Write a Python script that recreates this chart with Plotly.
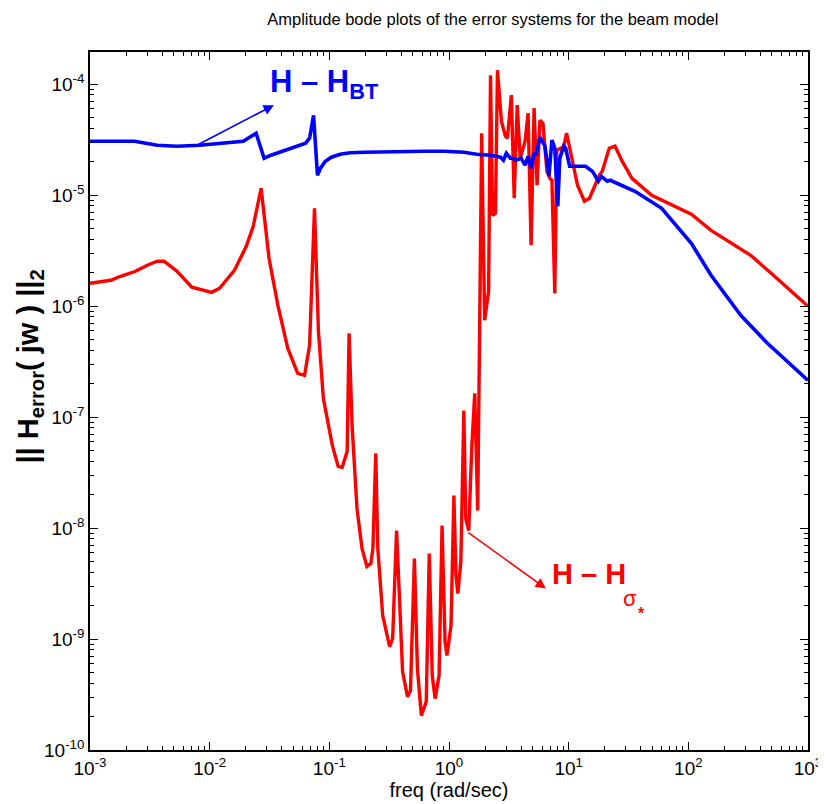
import plotly.graph_objects as go
import numpy as np

# ---- data (log10 of frequency in rad/s, log10 of error norm) ----
blue_log10_freq = [-3.000, -2.628, -2.438, -2.273, -2.083, -1.719, -1.612, -1.587, -1.545, -1.488,
                   -1.364, -1.198, -1.165, -1.132, -1.099, -1.074, -1.033, -0.983, -0.909, -0.826,
                   -0.702, -0.537, -0.372, -0.207, -0.041, 0.124, 0.231, 0.347, 0.430, 0.455,
                   0.479, 0.512, 0.537, 0.562, 0.603, 0.636, 0.661, 0.686, 0.711, 0.727,
                   0.760, 0.802, 0.835, 0.860, 0.884, 0.909, 0.926, 0.959, 0.975, 1.008,
                   1.140, 1.198, 1.248, 1.273, 1.322, 1.347, 1.554, 1.777, 2.025, 2.190,
                   2.438, 2.661, 3.000]
blue_log10_mag = [-4.514, -4.514, -4.550, -4.559, -4.550, -4.514, -4.442, -4.532, -4.667, -4.640,
                  -4.595, -4.532, -4.487, -4.280, -4.821, -4.757, -4.694, -4.658, -4.631, -4.618,
                  -4.613, -4.609, -4.604, -4.604, -4.604, -4.613, -4.631, -4.640, -4.658, -4.685,
                  -4.622, -4.667, -4.667, -4.685, -4.667, -4.730, -4.649, -4.757, -4.622, -4.640,
                  -4.478, -4.559, -4.830, -4.505, -4.577, -5.100, -4.667, -4.559, -4.577, -4.739,
                  -4.739, -4.784, -4.875, -4.830, -4.875, -4.866, -4.965, -5.118, -5.434, -5.722,
                  -6.083, -6.335, -6.669]

red_log10_freq = [-3.000, -2.826, -2.744, -2.620, -2.521, -2.438, -2.380, -2.273, -2.149, -1.983,
                  -1.917, -1.793, -1.694, -1.636, -1.570, -1.504, -1.430, -1.347, -1.264, -1.207,
                  -1.165, -1.124, -1.091, -1.050, -0.975, -0.926, -0.893, -0.851, -0.835, -0.810,
                  -0.769, -0.727, -0.686, -0.653, -0.636, -0.612, -0.595, -0.554, -0.496, -0.471,
                  -0.438, -0.413, -0.388, -0.347, -0.322, -0.289, -0.264, -0.231, -0.190, -0.165,
                  -0.140, -0.116, -0.083, -0.058, -0.033, -0.017, 0.017, 0.041, 0.058, 0.074,
                  0.099, 0.124, 0.140, 0.165, 0.190, 0.215, 0.240, 0.273, 0.298, 0.331,
                  0.347, 0.364, 0.388, 0.405, 0.438, 0.471, 0.488, 0.521, 0.545, 0.570,
                  0.595, 0.636, 0.661, 0.686, 0.711, 0.736, 0.760, 0.785, 0.818, 0.843,
                  0.860, 0.884, 0.901, 0.934, 0.950, 0.983, 1.017, 1.074, 1.132, 1.174,
                  1.256, 1.281, 1.339, 1.388, 1.450, 1.529, 1.694, 2.025, 2.190, 2.521,
                  2.711, 3.000]
red_log10_mag = [-5.794, -5.767, -5.731, -5.686, -5.632, -5.596, -5.596, -5.686, -5.830, -5.876,
                 -5.839, -5.677, -5.461, -5.280, -4.938, -5.569, -5.993, -6.381, -6.606, -6.624,
                 -6.353, -5.118, -6.227, -6.831, -7.255, -7.444, -7.454, -7.309, -6.245, -7.075,
                 -7.823, -8.184, -8.346, -8.319, -8.184, -7.327, -8.184, -8.788, -9.068, -8.995,
                 -8.022, -8.608, -9.293, -9.519, -9.465, -8.274, -9.266, -9.690, -9.564, -8.229,
                 -9.329, -9.537, -9.329, -7.977, -9.023, -9.149, -8.878, -7.706, -8.427, -8.590,
                 -8.301, -6.940, -7.913, -8.022, -7.282, -6.786, -7.841, -4.442, -6.128, -5.867,
                 -3.919, -5.181, -5.163, -3.874, -4.334, -4.469, -4.487, -4.099, -5.028, -4.189,
                 -4.667, -4.514, -4.261, -5.452, -4.216, -4.911, -4.325, -4.352, -4.784, -4.848,
                 -4.866, -5.885, -4.595, -4.577, -4.604, -4.442, -4.622, -4.911, -5.055, -5.028,
                 -4.821, -4.784, -4.577, -4.559, -4.700, -4.848, -5.001, -5.172, -5.317, -5.542,
                 -5.722, -6.002]

title_text = "Amplitude bode plots of the error systems for the beam model"
x_title = "freq (rad/sec)"
y_title = "<b>|| H<sub>error</sub>( jw ) ||<sub>2</sub></b>"
x_decades = [-3, -2, -1, 0, 1, 2, 3]
y_decades = [-10, -9, -8, -7, -6, -5, -4]

blue_freq = 10 ** np.array(blue_log10_freq)
blue_mag = 10 ** np.array(blue_log10_mag)
red_freq = 10 ** np.array(red_log10_freq)
red_mag = 10 ** np.array(red_log10_mag)

BLUE = "#0000FF"
RED = "#FF0000"
FONT = "Liberation Sans, Arial, sans-serif"


def minor_vals(decades, top):
    vals = []
    for d in decades:
        for m in range(2, 10):
            v = m * 10.0 ** d
            if v < top:
                vals.append(v)
    return vals


fig = go.Figure()
fig.add_trace(go.Scatter(x=red_freq, y=red_mag, mode="lines",
                         line=dict(color=RED, width=3.4), showlegend=False))
fig.add_trace(go.Scatter(x=blue_freq, y=blue_mag, mode="lines",
                         line=dict(color=BLUE, width=3.6), showlegend=False))

axis_common = dict(
    type="log", showgrid=False, zeroline=False, showline=True, linecolor="black",
    linewidth=1.6, mirror="ticks", ticks="inside", ticklen=8, tickcolor="black",
    tickfont=dict(family=FONT, size=19, color="black"),
)

fig.update_layout(
    width=826, height=804,
    paper_bgcolor="white", plot_bgcolor="white",
    margin=dict(l=82, r=18, t=44, b=62),
    title=dict(text=title_text, x=0.587, xanchor="center", y=0.986, yanchor="middle",
               font=dict(family=FONT, size=16.5, color="black")),
    xaxis=dict(range=[-3, 3], tickmode="array",
               tickvals=[10.0 ** d for d in x_decades],
               ticktext=[f"10<sup>{d}</sup>" for d in x_decades],
               minor=dict(tickmode="array", tickvals=minor_vals(x_decades[:-1], 1e3),
                          ticks="inside", ticklen=4, tickcolor="black", showgrid=False),
               title=dict(text=x_title, standoff=4,
                          font=dict(family=FONT, size=20, color="black")),
               **axis_common),
    yaxis=dict(range=[-10, -3.71], tickmode="array",
               tickvals=[10.0 ** d for d in y_decades],
               ticktext=[f"10<sup>{d}</sup>" for d in y_decades],
               minor=dict(tickmode="array", tickvals=minor_vals(y_decades, 10 ** -3.71),
                          ticks="inside", ticklen=4, tickcolor="black", showgrid=False),
               **axis_common),
    font=dict(family=FONT),
)

annotations = [
    # y-axis title
    dict(text=y_title, xref="paper", yref="paper", x=-0.083, y=0.55, textangle=-90,
         showarrow=False, xanchor="center", yanchor="middle",
         font=dict(family=FONT, size=29, color="black")),
    # blue arrow
    dict(text="", x=-1.463, y=-4.189, ax=-2.107, ay=-4.550, xref="x", yref="y",
         axref="x", ayref="y", showarrow=True, arrowhead=2, arrowsize=1.3, arrowwidth=1.6,
         arrowcolor=BLUE),
    dict(text="<b>H – H<sub>BT</sub></b>", x=-1.512, y=-4.0, xref="x", yref="y",
         showarrow=False, xanchor="left", yanchor="middle",
         font=dict(family=FONT, size=31, color=BLUE)),
    # red arrow
    dict(text="", x=0.810, y=-8.545, ax=0.149, ay=-8.031, xref="x", yref="y",
         axref="x", ayref="y", showarrow=True, arrowhead=2, arrowsize=1.3, arrowwidth=1.6,
         arrowcolor=RED),
    dict(text="<b>H – H</b>", x=0.843, y=-8.41, xref="x", yref="y",
         showarrow=False, xanchor="left", yanchor="middle",
         font=dict(family=FONT, size=29, color=RED)),
    dict(text="σ", x=1.512, y=-8.633, xref="x", yref="y",
         showarrow=False, xanchor="center", yanchor="middle",
         font=dict(family=FONT, size=22, color=RED)),
    dict(text="<b>*</b>", x=1.61, y=-8.77, xref="x", yref="y",
         showarrow=False, xanchor="center", yanchor="middle",
         font=dict(family=FONT, size=16, color=RED)),
]
fig.update_layout(annotations=annotations)

fig.write_html("out.html")
